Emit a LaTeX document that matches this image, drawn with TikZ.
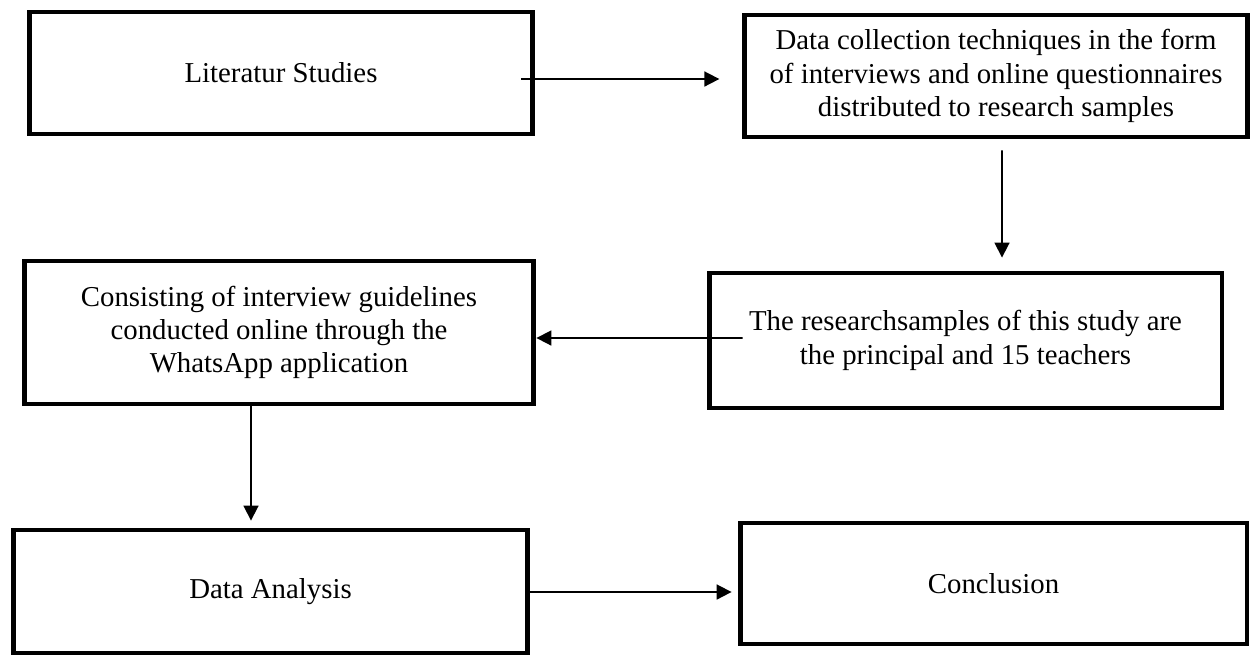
\documentclass[tikz,border=0pt]{standalone}
\usepackage{fontspec}
\setmainfont{Liberation Serif}
\usepackage{tikz}
\usetikzlibrary{arrows.meta, positioning}

\begin{document}
\begin{tikzpicture}[
    x=0.02cm, y=-0.02cm,
    font=\fontsize{16.4}{19}\selectfont,
    box/.style={rectangle, draw=black, line width=2.8pt, align=center, inner sep=0pt},
    arr/.style={-{Triangle[length=0.3cm, width=0.3cm]}, line width=1pt, draw=black}
]
\useasboundingbox (0,0) rectangle (1250,664);

% 1. Process Boxes
\node[box, minimum width=10.08cm, minimum height=2.44cm] (lit) at (281,73) {Literatur Studies};
\node[box, minimum width=10.05cm, minimum height=2.44cm] (collect) at (996,76) {Data collection techniques in the form\\of interviews and online questionnaires\\distributed to research samples};
\node[box, minimum width=10.26cm, minimum height=2.70cm] (sample) at (965.5,340.5) {The researchsamples of this study are\\the principal and 15 teachers};
\node[box, minimum width=10.20cm, minimum height=2.86cm] (guide) at (279,332.5) {Consisting of interview guidelines\\conducted online through the\\WhatsApp application};
\node[box, minimum width=10.30cm, minimum height=2.46cm] (analysis) at (270.5,591.5) {Data Analysis};
\node[box, minimum width=10.14cm, minimum height=2.42cm] (concl) at (993.5,583.5) {Conclusion};

% 2. Flow Arrows
\draw[arr] ([shift={(-14,6)}]lit.east) -- ([shift={(-23,3)}]collect.west);
\draw[arr] ([shift={(6,11)}]collect.south) -- ([shift={(36.5,-13)}]sample.north);
\draw[arr] ([shift={(36,-2.5)}]sample.west) -- ([shift={(0,5.5)}]guide.east);
\draw[arr] ([shift={(-28,0)}]guide.south) -- ([shift={(-19.5,-7)}]analysis.north);
\draw[arr] ([shift={(0,0.5)}]analysis.east) -- ([shift={(-6,8.5)}]concl.west);

\end{tikzpicture}
\end{document}
